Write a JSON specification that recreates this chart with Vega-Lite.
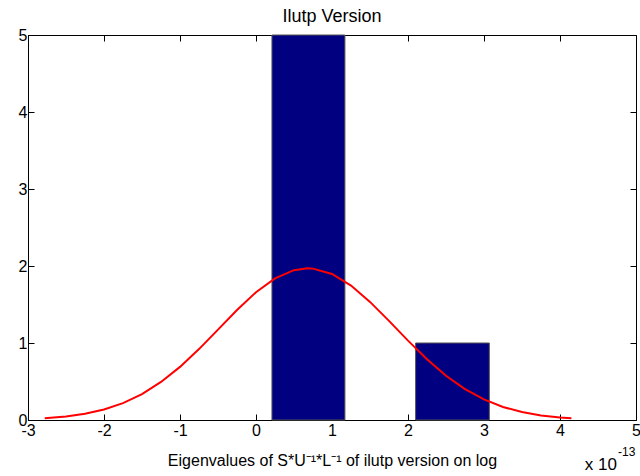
{
  "$schema": "https://vega.github.io/schema/vega-lite/v6.json",
  "width": 608,
  "height": 385,
  "autosize": {"type": "none"},
  "padding": {"left": 28, "top": 35, "right": 4, "bottom": 56},
  "background": "white",
  "config": {
    "font": "Liberation Sans",
    "view": {"stroke": "black", "strokeWidth": 1},
    "axis": {"domainColor": "black", "tickColor": "black", "labelColor": "black", "titleColor": "black", "grid": false, "labelFont": "Liberation Sans", "titleFont": "Liberation Sans", "labelFontSize": 16, "titleFontSize": 16, "titleFontWeight": "normal"}
  },
  "title": {"text": "Ilutp Version", "fontSize": 18, "fontWeight": "normal", "font": "Liberation Sans", "offset": 1, "color": "black"},
  "datasets": {
    "bars": [
      {"bin_start": 0.21, "bin_end": 1.17, "count": 5},
      {"bin_start": 2.1, "bin_end": 3.07, "count": 1}
    ],
    "curve": [
      {"x": -2.78, "y": 0.023}, {"x": -2.5, "y": 0.046}, {"x": -2.25, "y": 0.081},
      {"x": -2.0, "y": 0.137}, {"x": -1.75, "y": 0.219}, {"x": -1.5, "y": 0.337},
      {"x": -1.25, "y": 0.494}, {"x": -1.0, "y": 0.69}, {"x": -0.75, "y": 0.921},
      {"x": -0.5, "y": 1.174}, {"x": -0.25, "y": 1.429}, {"x": 0.0, "y": 1.659},
      {"x": 0.25, "y": 1.839}, {"x": 0.5, "y": 1.946}, {"x": 0.68, "y": 1.97},
      {"x": 0.75, "y": 1.966}, {"x": 1.0, "y": 1.897}, {"x": 1.25, "y": 1.746},
      {"x": 1.5, "y": 1.534}, {"x": 1.75, "y": 1.287}, {"x": 2.0, "y": 1.031},
      {"x": 2.25, "y": 0.788}, {"x": 2.5, "y": 0.575}, {"x": 2.75, "y": 0.401},
      {"x": 3.0, "y": 0.267}, {"x": 3.25, "y": 0.169}, {"x": 3.5, "y": 0.103},
      {"x": 3.75, "y": 0.059}, {"x": 4.0, "y": 0.033}, {"x": 4.15, "y": 0.022}
    ],
    "multiplier": [{"x": 5, "y": 0, "base": "x 10", "exponent": "-13"}]
  },
  "layer": [
    {
      "data": {"name": "bars"},
      "mark": {"type": "rect", "fill": "#000080", "stroke": "#555555", "strokeWidth": 1},
      "encoding": {
        "x": {"field": "bin_start", "type": "quantitative", "scale": {"domain": [-3, 5], "nice": false, "zero": false},
              "axis": {"values": [-3, -2, -1, 0, 1, 2, 3, 4, 5], "labelExpr": "'' + datum.value", "tickSize": -6, "labelPadding": 8, "labelFlush": false,
                       "title": "Eigenvalues of S*U⁻¹*L⁻¹ of ilutp version on log", "titlePadding": 14}},
        "x2": {"field": "bin_end"},
        "y": {"field": "count", "type": "quantitative", "scale": {"domain": [0, 5], "nice": false},
              "axis": {"values": [0, 1, 2, 3, 4, 5], "tickSize": -6, "labelPadding": 7, "title": null, "labelFlush": false}},
        "y2": {"datum": 0}
      }
    },
    {
      "data": {"name": "curve"},
      "mark": {"type": "line", "color": "#ff0000", "strokeWidth": 2},
      "encoding": {
        "x": {"field": "x", "type": "quantitative", "axis": null},
        "y": {"field": "y", "type": "quantitative", "axis": null}
      }
    },
    {
      "data": {"name": "curve"},
      "mark": {"type": "rule", "opacity": 0},
      "encoding": {
        "x": {"field": "x", "type": "quantitative", "axis": {"orient": "top", "values": [-3, -2, -1, 0, 1, 2, 3, 4, 5], "labels": false, "tickSize": -6, "title": null, "domain": false}},
        "y": {"field": "y", "type": "quantitative", "axis": {"orient": "right", "values": [0, 1, 2, 3, 4, 5], "labels": false, "tickSize": -6, "title": null, "domain": false}}
      }
    },
    {
      "data": {"name": "multiplier"},
      "mark": {"type": "text", "font": "Liberation Sans", "fontSize": 17, "color": "black", "dy": 50, "dx": -19, "align": "right", "baseline": "alphabetic"},
      "encoding": {
        "x": {"field": "x", "type": "quantitative", "axis": null},
        "y": {"field": "y", "type": "quantitative", "axis": null},
        "text": {"field": "base"}
      }
    },
    {
      "data": {"name": "multiplier"},
      "mark": {"type": "text", "font": "Liberation Sans", "fontSize": 12, "color": "black", "dy": 36, "dx": -18, "align": "left", "baseline": "alphabetic"},
      "encoding": {
        "x": {"field": "x", "type": "quantitative", "axis": null},
        "y": {"field": "y", "type": "quantitative", "axis": null},
        "text": {"field": "exponent"}
      }
    }
  ],
  "resolve": {"axis": {"x": "independent", "y": "independent"}}
}
